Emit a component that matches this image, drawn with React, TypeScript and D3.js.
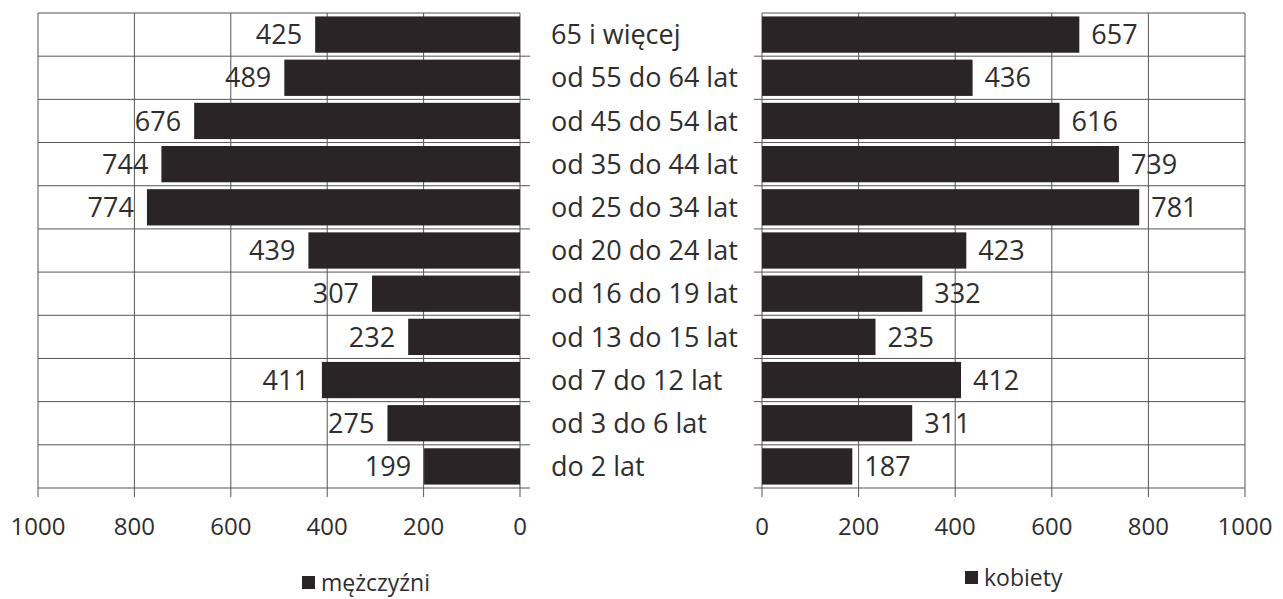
import React from "react";
import * as d3 from "d3";

const categories = [
  "65 i więcej",
  "od 55 do 64 lat",
  "od 45 do 54 lat",
  "od 35 do 44 lat",
  "od 25 do 34 lat",
  "od 20 do 24 lat",
  "od 16 do 19 lat",
  "od 13 do 15 lat",
  "od 7 do 12 lat",
  "od 3 do 6 lat",
  "do 2 lat",
];
const men = [425, 489, 676, 744, 774, 439, 307, 232, 411, 275, 199];
const women = [657, 436, 616, 739, 781, 423, 332, 235, 412, 311, 187];
const ticks = [0, 200, 400, 600, 800, 1000];
const seriesNames = ["mężczyźni", "kobiety"];

const W = 1283;
const H = 599;
const top = 13;
const bottom = 488;
const barColor = "#2b2427";
const gridColor = "#555";
const textColor = "#2e2e2e";
const font = "'Open Sans', 'DejaVu Sans', sans-serif";

export default function App() {
  const y = d3.scaleBand<string>().domain(categories).range([top, bottom]).paddingInner(0.16).paddingOuter(0.08);
  const rowY = d3.scaleBand<string>().domain(categories).range([top, bottom]);
  const xL = d3.scaleLinear().domain([0, 1000]).range([520, 38]);
  const xR = d3.scaleLinear().domain([0, 1000]).range([762, 1245]);

  const panel = (x: d3.ScaleLinear<number, number>, vals: number[], left: boolean) => {
    const x0 = x(0);
    const x1 = x(1000);
    const lo = Math.min(x0, x1);
    const hi = Math.max(x0, x1);
    const ext = left ? [lo, hi + 10] : [lo - 8, hi];
    return (
      <g>
        {ticks.map((t) => (
          <line key={"v" + t} x1={x(t)} x2={x(t)} y1={top} y2={bottom + 9} stroke={gridColor} strokeWidth={1} />
        ))}
        {[...categories.map((c) => rowY(c)!), bottom].map((yy, i) => (
          <line key={"h" + i} x1={i === 0 ? lo : ext[0]} x2={i === 0 ? hi : ext[1]} y1={yy} y2={yy} stroke={gridColor} strokeWidth={1} />
        ))}
        {vals.map((v, i) => {
          const c = categories[i];
          const bx = left ? x(v) : x(0);
          const bw = Math.abs(x(v) - x(0));
          return (
            <g key={c}>
              <rect x={bx} y={y(c)!} width={bw} height={y.bandwidth()} fill={barColor} />
              <text
                x={left ? x(v) - 13 : x(v) + 12}
                y={rowY(c)! + rowY.bandwidth() / 2}
                dy="0.36em"
                textAnchor={left ? "end" : "start"}
                fontSize={27}
                fill={textColor}
                fontFamily={font}
              >
                {v}
              </text>
            </g>
          );
        })}
        {ticks.map((t) => (
          <text key={"t" + t} x={x(t)} y={526} dy="0.36em" textAnchor="middle" fontSize={24} fill={textColor} fontFamily={font}>
            {t}
          </text>
        ))}
      </g>
    );
  };

  return (
    <svg width={W} height={H} style={{ display: "block", position: "absolute", left: 0, top: 0, background: "#fff" }}>
      <rect x={0} y={0} width={W} height={H} fill="#fff" />
      {panel(xL, men, true)}
      {panel(xR, women, false)}
      {categories.map((c) => (
        <text key={c} x={551} y={rowY(c)! + rowY.bandwidth() / 2} dy="0.36em" fontSize={27} fill={textColor} fontFamily={font}>
          {c}
        </text>
      ))}
      <rect x={302} y={576} width={13} height={13} fill={barColor} />
      <text x={321} y={583} dy="0.36em" fontSize={23} fill={textColor} fontFamily={font}>
        {seriesNames[0]}
      </text>
      <rect x={965} y={571} width={13} height={13} fill={barColor} />
      <text x={984} y={578} dy="0.36em" fontSize={23} fill={textColor} fontFamily={font}>
        {seriesNames[1]}
      </text>
    </svg>
  );
}
